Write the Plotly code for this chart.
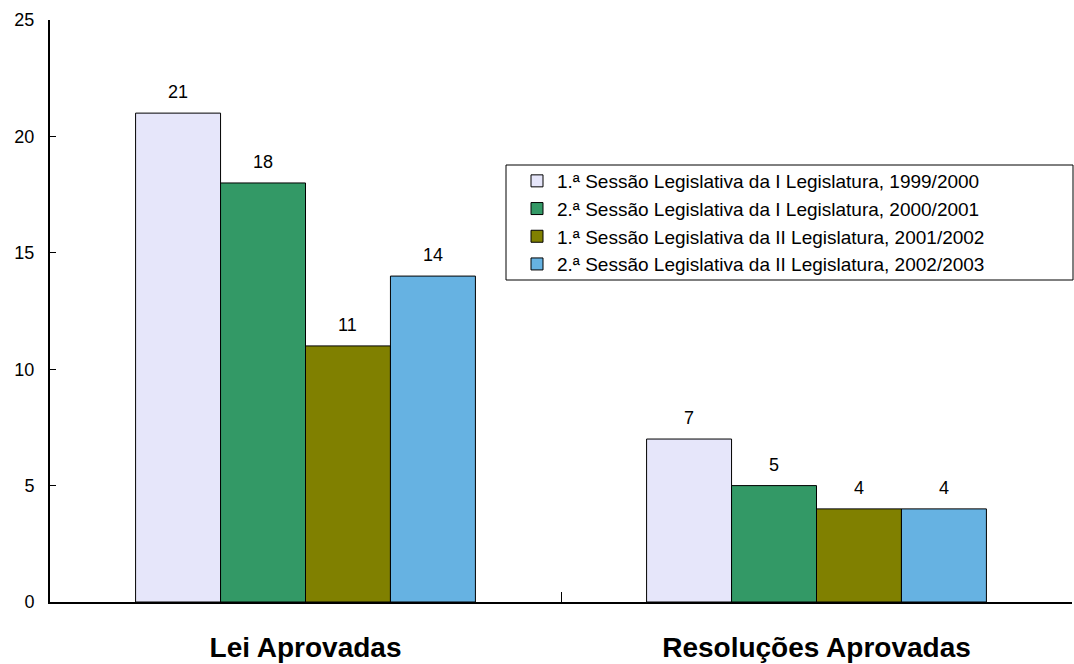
import plotly.graph_objects as go

categories = ["Lei Aprovadas", "Resoluções Aprovadas"]
series_names = [
    "1.ª Sessão Legislativa da I Legislatura, 1999/2000",
    "2.ª Sessão Legislativa da I Legislatura, 2000/2001",
    "1.ª Sessão Legislativa da II Legislatura, 2001/2002",
    "2.ª Sessão Legislativa da II Legislatura, 2002/2003",
]
s1 = [21, 7]
s2 = [18, 5]
s3 = [11, 4]
s4 = [14, 4]
series_values = [s1, s2, s3, s4]
colors = ["#E6E6FA", "#339966", "#808000", "#66B2E2"]
y_ticks = [0, 5, 10, 15, 20, 25]

FONT = "Liberation Sans, Arial, sans-serif"
W, H = 1074, 664
ML, MR, MT, MB = 50, 2, 20, 62
plot_w = W - ML - MR
plot_h = H - MT - MB
bargap = 0.335
n = len(series_values)
bar_px = plot_w / len(categories) * (1 - bargap) / n

fig = go.Figure()
annotations = []
for i, (name, vals, col) in enumerate(zip(series_names, series_values, colors)):
    fig.add_trace(go.Bar(
        name=name, x=categories, y=vals,
        marker=dict(color=col, line=dict(color="black", width=1)),
    ))
    for c, v in zip(categories, vals):
        annotations.append(dict(
            x=c, y=v, xref="x", yref="y", text=str(v), showarrow=False,
            xshift=(i - (n - 1) / 2) * bar_px, yshift=21,
            yanchor="middle", font=dict(family=FONT, size=18, color="black"),
        ))

fig.update_layout(
    width=W, height=H,
    barmode="group", bargap=bargap, bargroupgap=0,
    plot_bgcolor="white", paper_bgcolor="white",
    margin=dict(l=ML, r=MR, t=MT, b=MB, autoexpand=False),
    font=dict(family=FONT, size=18, color="black"),
    showlegend=True,
    annotations=annotations,
    shapes=[dict(
        type="rect", xref="paper", yref="paper",
        x0=(506 - ML) / plot_w, x1=(1073 - ML) / plot_w,
        y0=(H - MB - 280) / plot_h, y1=(H - MB - 165) / plot_h,
        line=dict(color="black", width=1), fillcolor="white", layer="above",
    )],
    legend=dict(
        x=(517 - ML) / plot_w, y=(H - MB - 162) / plot_h, xanchor="left", yanchor="top",
        bgcolor="rgba(0,0,0,0)", borderwidth=0,
        font=dict(size=19, color="black", family=FONT),
        traceorder="normal",
    ),
    xaxis=dict(
        showline=True, linecolor="black", linewidth=2,
        ticks="inside", tickson="boundaries", ticklen=10, tickcolor="black", tickwidth=1,
        tickfont=dict(size=28, family=FONT, weight="bold"),
        ticklabelstandoff=19, automargin=False,
        showgrid=False,
    ),
    yaxis=dict(
        range=[0, 25], tickvals=y_ticks,
        showline=True, linecolor="black", linewidth=2,
        ticks="inside", ticklen=6, tickcolor="black", tickwidth=1,
        tickfont=dict(size=18, family=FONT),
        ticklabelstandoff=10, automargin=False,
        showgrid=False, zeroline=False,
    ),
)

fig.write_html(
    "out.html",
    config={"displayModeBar": False},
    post_script="document.body.style.margin='0';document.body.style.overflow='hidden';",
)
